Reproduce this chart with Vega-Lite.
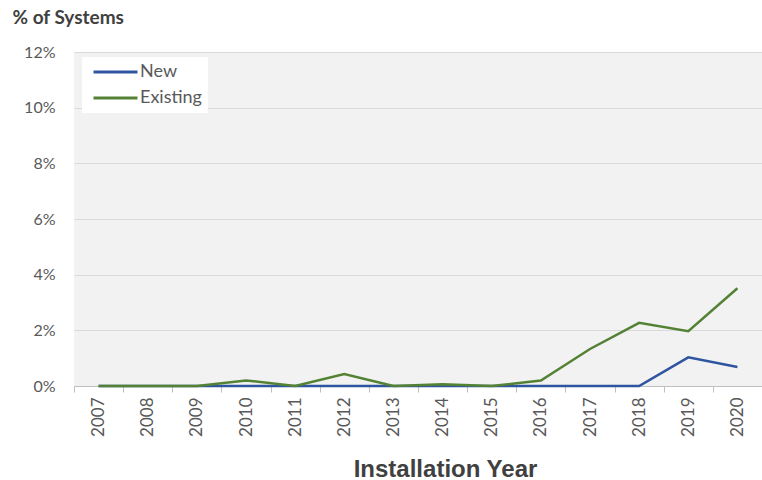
{
  "$schema": "https://vega.github.io/schema/vega-lite/v6.json",
  "width": 688,
  "height": 334,
  "autosize": {"type": "none"},
  "padding": {"left": 74, "top": 52, "right": 0, "bottom": 94},
  "background": "white",
  "view": {"fill": "#f2f2f2", "stroke": null},
  "data": {
    "values": [
      {"year": "2007", "series": "New", "pct": 0},
      {"year": "2008", "series": "New", "pct": 0},
      {"year": "2009", "series": "New", "pct": 0},
      {"year": "2010", "series": "New", "pct": 0},
      {"year": "2011", "series": "New", "pct": 0},
      {"year": "2012", "series": "New", "pct": 0},
      {"year": "2013", "series": "New", "pct": 0},
      {"year": "2014", "series": "New", "pct": 0},
      {"year": "2015", "series": "New", "pct": 0},
      {"year": "2016", "series": "New", "pct": 0},
      {"year": "2017", "series": "New", "pct": 0},
      {"year": "2018", "series": "New", "pct": 0},
      {"year": "2019", "series": "New", "pct": 0.0103},
      {"year": "2020", "series": "New", "pct": 0.0068},
      {"year": "2007", "series": "Existing", "pct": 0},
      {"year": "2008", "series": "Existing", "pct": 0},
      {"year": "2009", "series": "Existing", "pct": 0},
      {"year": "2010", "series": "Existing", "pct": 0.002},
      {"year": "2011", "series": "Existing", "pct": 0},
      {"year": "2012", "series": "Existing", "pct": 0.0043},
      {"year": "2013", "series": "Existing", "pct": 0},
      {"year": "2014", "series": "Existing", "pct": 0.0006},
      {"year": "2015", "series": "Existing", "pct": 0},
      {"year": "2016", "series": "Existing", "pct": 0.002},
      {"year": "2017", "series": "Existing", "pct": 0.0133},
      {"year": "2018", "series": "Existing", "pct": 0.0227},
      {"year": "2019", "series": "Existing", "pct": 0.0197},
      {"year": "2020", "series": "Existing", "pct": 0.0351}
    ]
  },
  "mark": {"type": "line", "strokeWidth": 2.5, "strokeJoin": "miter"},
  "encoding": {
    "x": {
      "field": "year",
      "type": "ordinal",
      "scale": {"type": "band", "paddingInner": 0, "paddingOuter": 0},
      "axis": {
        "title": "Installation Year",
        "titleFont": "Liberation Sans",
        "titleFontSize": 24,
        "titleFontWeight": "bold",
        "titleColor": "#404040",
        "titleX": 371,
        "titleY": 90,
        "titleAnchor": null,
        "titleAlign": "center",
        "titleBaseline": "alphabetic",
        "labelAngle": -90,
        "labelFont": "Lato",
        "labelFontSize": 17,
        "labelColor": "#595959",
        "labelPadding": 5,
        "tickBand": "extent",
        "tickSize": 6,
        "tickColor": "#bfbfbf",
        "tickWidth": 1,
        "domainColor": "#bfbfbf",
        "domainWidth": 1,
        "grid": false
      }
    },
    "y": {
      "field": "pct",
      "type": "quantitative",
      "scale": {"domain": [0, 0.12], "nice": false},
      "axis": {
        "title": "% of Systems",
        "titleFont": "Lato",
        "titleFontSize": 19,
        "titleFontWeight": "bold",
        "titleColor": "#404040",
        "titleAngle": 0,
        "titleAlign": "left",
        "titleBaseline": "alphabetic",
        "titleX": -62,
        "titleY": -29,
        "format": ".0%",
        "values": [0, 0.02, 0.04, 0.06, 0.08, 0.1, 0.12],
        "labelFont": "Lato",
        "labelFontSize": 16,
        "labelColor": "#595959",
        "labelPadding": 19,
        "ticks": false,
        "domain": false,
        "grid": true,
        "gridColor": "#d9d9d9",
        "gridWidth": 1
      }
    },
    "color": {
      "field": "series",
      "type": "nominal",
      "scale": {"domain": ["New", "Existing"], "range": ["#2f55a0", "#548235"]},
      "legend": {
        "title": null,
        "orient": "none",
        "legendX": 8,
        "legendY": 5,
        "fillColor": "white",
        "padding": 6,
        "symbolType": "M-0.467,0H5.4",
        "symbolSize": 225,
        "symbolStrokeWidth": 3,
        "labelFont": "Lato",
        "labelFontSize": 18,
        "labelColor": "#595959",
        "labelOffset": 34,
        "rowPadding": 8
      }
    }
  }
}
